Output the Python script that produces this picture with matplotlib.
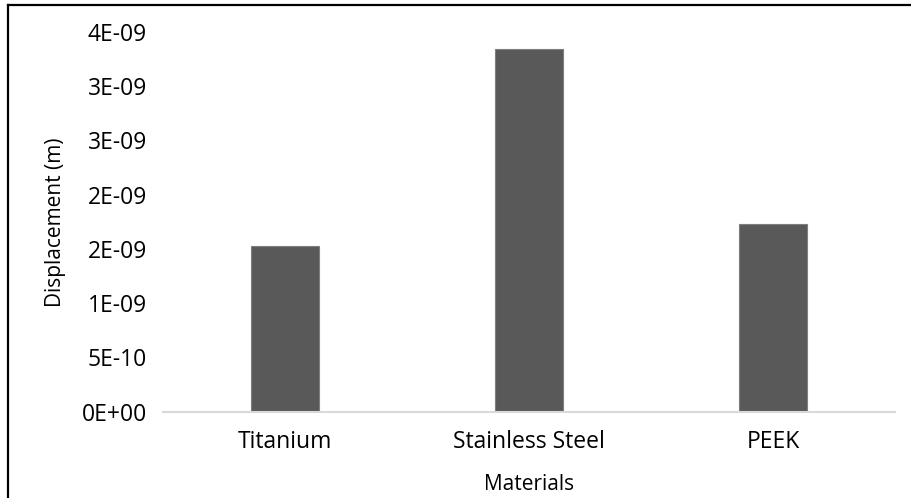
import matplotlib
matplotlib.use("Agg")
import matplotlib.pyplot as plt
from matplotlib.lines import Line2D
from matplotlib.ticker import FuncFormatter, MultipleLocator

materials = ["Titanium", "Stainless Steel", "PEEK"]
displacement = [1.53e-9, 3.34e-9, 1.73e-9]

plt.rcParams["font.family"] = ["Open Sans", "DejaVu Sans"]

W, H = 912, 498
fig = plt.figure(figsize=(W / 100, H / 100), dpi=100)
ax = fig.add_axes([163 / W, 1 - 411.7 / H, (895 - 163) / W, (411.7 - 32) / H])

x = range(len(materials))
ax.bar(x, displacement, width=0.275, color="#595959", edgecolor="#7f7f7f",
       linewidth=0.8, zorder=2)

ax.set_xlim(-0.5, len(materials) - 0.5)
ax.set_ylim(0, 3.5e-9)
ax.yaxis.set_major_locator(MultipleLocator(0.5e-9))


def sci_fmt(v, pos):
    if abs(v) < 1e-20:
        return "0E+00"
    return f"{v:.0E}"


ax.yaxis.set_major_formatter(FuncFormatter(sci_fmt))
ax.set_xticks(list(x))
ax.set_xticklabels(materials)

for side in ("top", "right", "left"):
    ax.spines[side].set_visible(False)
ax.spines["bottom"].set_color("#d9d9d9")
ax.spines["bottom"].set_linewidth(1.5)

ax.tick_params(axis="both", length=0, colors="#000000", labelsize=16.5)
ax.tick_params(axis="y", pad=11.5)
ax.tick_params(axis="x", pad=13)

ax.set_xlabel("Materials", fontsize=15)
ax.set_ylabel("Displacement (m)", fontsize=15)
ax.xaxis.set_label_coords(0.5, (411.7 - 484) / (411.7 - 32), transform=ax.transAxes)
ax.xaxis.label.set_verticalalignment("center")
ax.yaxis.set_label_coords((56 - 163) / (895 - 163), 0.5, transform=ax.transAxes)
ax.yaxis.label.set_verticalalignment("center")

# outer frame of the chart area
fig.add_artist(Line2D([8 / W, 8 / W], [0, 1 - 5 / H], color="black",
                      linewidth=1.6, transform=fig.transFigure))
fig.add_artist(Line2D([8 / W, 1], [1 - 5 / H, 1 - 5 / H], color="black",
                      linewidth=1.6, transform=fig.transFigure))

fig.savefig("out.png", dpi=100)
